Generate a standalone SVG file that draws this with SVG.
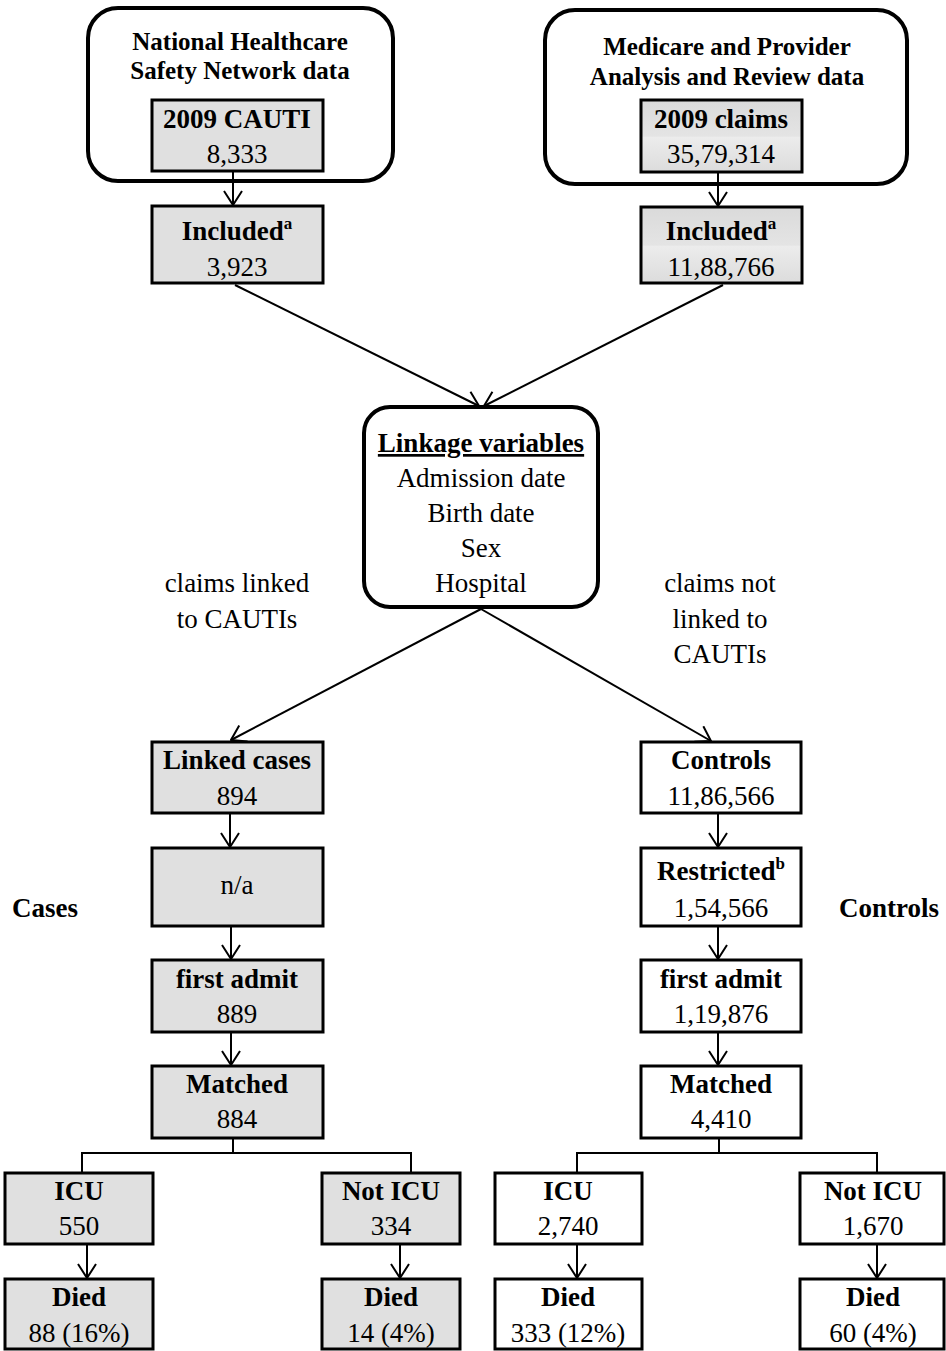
<svg xmlns="http://www.w3.org/2000/svg" width="946" height="1351" viewBox="0 0 946 1351">
<defs>
<style>
.bg{fill:#ffffff}
.outer{fill:#ffffff;stroke:#000;stroke-width:4}
.g{fill:#e0e0e0;stroke:#000;stroke-width:3}
.gg{fill:url(#grad);stroke:#000;stroke-width:3}
.w{fill:#ffffff;stroke:#000;stroke-width:3}
.t{font-family:"Liberation Serif","Times New Roman",serif;font-size:27px;fill:#000;text-anchor:middle}
.b{font-weight:bold}
.h{font-family:"Liberation Serif","Times New Roman",serif;font-size:25px;font-weight:bold;fill:#000;text-anchor:middle}
.sup{font-size:17px;font-weight:bold}
.c line,.c path{stroke:#000;stroke-width:2;fill:none}
</style>
<linearGradient id="grad" x1="0" y1="0" x2="0" y2="1">
<stop offset="0" stop-color="#dadada"/>
<stop offset="0.5" stop-color="#e4e4e4"/>
<stop offset="0.52" stop-color="#ececec"/>
<stop offset="1" stop-color="#dcdcdc"/>
</linearGradient>
<marker id="arr" viewBox="0 0 16 20" refX="15" refY="10" markerWidth="16" markerHeight="20" markerUnits="userSpaceOnUse" orient="auto">
<path d="M1,1 L15,10 L1,19" fill="none" stroke="#000" stroke-width="2"/>
</marker>
</defs>
<rect class="bg" x="0" y="0" width="946" height="1351"/>

<g id="nhsn">
<rect class="outer" x="88" y="8" width="305" height="173" rx="30"/>
<text class="h" x="240" y="50">National Healthcare</text>
<text class="h" x="240" y="79">Safety Network data</text>
</g>
<g id="cauti">
<rect class="g" x="152" y="100" width="171" height="71"/>
<text class="t b" x="237" y="128">2009 CAUTI</text>
<text class="t" x="237" y="163">8,333</text>
</g>
<g id="included-left">
<rect class="g" x="152" y="206" width="171" height="77"/>
<text class="t b" x="237" y="240">Included<tspan class="sup" dy="-11">a</tspan></text>
<text class="t" x="237" y="276">3,923</text>
</g>

<g id="medpar">
<rect class="outer" x="545" y="10" width="362" height="174" rx="30"/>
<text class="h" x="727" y="55">Medicare and Provider</text>
<text class="h" x="727" y="85">Analysis and Review data</text>
</g>
<g id="claims">
<rect class="gg" x="641" y="100" width="161" height="72"/>
<text class="t b" x="721" y="128">2009 claims</text>
<text class="t" x="721" y="163">35,79,314</text>
</g>
<g id="included-right">
<rect class="gg" x="641" y="207" width="161" height="76"/>
<text class="t b" x="721" y="240">Included<tspan class="sup" dy="-11">a</tspan></text>
<text class="t" x="721" y="276">11,88,766</text>
</g>

<g id="linkage">
<rect class="outer" x="364" y="407" width="234" height="200" rx="26"/>
<text class="t b" x="481" y="452" text-decoration="underline">Linkage variables</text>
<text class="t" x="481" y="487">Admission date</text>
<text class="t" x="481" y="522">Birth date</text>
<text class="t" x="481" y="557">Sex</text>
<text class="t" x="481" y="592">Hospital</text>
</g>

<g id="label-linked">
<text class="t" x="237" y="592">claims linked</text>
<text class="t" x="237" y="628">to CAUTIs</text>
</g>
<g id="label-notlinked">
<text class="t" x="720" y="592">claims not</text>
<text class="t" x="720" y="628">linked to</text>
<text class="t" x="720" y="663">CAUTIs</text>
</g>

<g id="label-cases"><text class="t b" x="45" y="917">Cases</text></g>
<g id="label-controls"><text class="t b" x="889" y="917">Controls</text></g>

<g id="linked-cases">
<rect class="g" x="152" y="742" width="171" height="71"/>
<text class="t b" x="237" y="769">Linked cases</text>
<text class="t" x="237" y="805">894</text>
</g>
<g id="na">
<rect class="g" x="152" y="848" width="171" height="78"/>
<text class="t" x="237" y="894">n/a</text>
</g>
<g id="first-left">
<rect class="g" x="152" y="960" width="171" height="72"/>
<text class="t b" x="237" y="988">first admit</text>
<text class="t" x="237" y="1023">889</text>
</g>
<g id="matched-left">
<rect class="g" x="152" y="1066" width="171" height="72"/>
<text class="t b" x="237" y="1093">Matched</text>
<text class="t" x="237" y="1128">884</text>
</g>

<g id="controls">
<rect class="w" x="641" y="742" width="160" height="71"/>
<text class="t b" x="721" y="769">Controls</text>
<text class="t" x="721" y="805">11,86,566</text>
</g>
<g id="restricted">
<rect class="w" x="641" y="848" width="160" height="78"/>
<text class="t b" x="721" y="880">Restricted<tspan class="sup" dy="-11">b</tspan></text>
<text class="t" x="721" y="917">1,54,566</text>
</g>
<g id="first-right">
<rect class="w" x="641" y="960" width="160" height="72"/>
<text class="t b" x="721" y="988">first admit</text>
<text class="t" x="721" y="1023">1,19,876</text>
</g>
<g id="matched-right">
<rect class="w" x="641" y="1066" width="160" height="72"/>
<text class="t b" x="721" y="1093">Matched</text>
<text class="t" x="721" y="1128">4,410</text>
</g>

<g id="icu-cases">
<rect class="g" x="5" y="1173" width="148" height="71"/>
<text class="t b" x="79" y="1200">ICU</text>
<text class="t" x="79" y="1235">550</text>
</g>
<g id="noticu-cases">
<rect class="g" x="322" y="1173" width="138" height="71"/>
<text class="t b" x="391" y="1200">Not ICU</text>
<text class="t" x="391" y="1235">334</text>
</g>
<g id="died-icu-cases">
<rect class="g" x="5" y="1279" width="148" height="70"/>
<text class="t b" x="79" y="1306">Died</text>
<text class="t" x="79" y="1342">88 (16%)</text>
</g>
<g id="died-noticu-cases">
<rect class="g" x="322" y="1279" width="138" height="70"/>
<text class="t b" x="391" y="1306">Died</text>
<text class="t" x="391" y="1342">14 (4%)</text>
</g>

<g id="icu-controls">
<rect class="w" x="495" y="1173" width="147" height="71"/>
<text class="t b" x="568" y="1200">ICU</text>
<text class="t" x="568" y="1235">2,740</text>
</g>
<g id="noticu-controls">
<rect class="w" x="800" y="1173" width="144" height="71"/>
<text class="t b" x="873" y="1200">Not ICU</text>
<text class="t" x="873" y="1235">1,670</text>
</g>
<g id="died-icu-controls">
<rect class="w" x="495" y="1279" width="147" height="70"/>
<text class="t b" x="568" y="1306">Died</text>
<text class="t" x="568" y="1342">333 (12%)</text>
</g>
<g id="died-noticu-controls">
<rect class="w" x="800" y="1279" width="144" height="70"/>
<text class="t b" x="873" y="1306">Died</text>
<text class="t" x="873" y="1342">60 (4%)</text>
</g>

<g id="connectors" class="c">
<line x1="233" y1="172" x2="233" y2="205" marker-end="url(#arr)"/>
<line x1="718" y1="173" x2="718" y2="206" marker-end="url(#arr)"/>
<line x1="235" y1="285" x2="479" y2="406" marker-end="url(#arr)"/>
<line x1="723" y1="285" x2="484" y2="406" marker-end="url(#arr)"/>
<line x1="481" y1="609" x2="231" y2="740" marker-end="url(#arr)"/>
<line x1="481" y1="609" x2="711" y2="741" marker-end="url(#arr)"/>
<line x1="230" y1="814" x2="230" y2="847" marker-end="url(#arr)"/>
<line x1="231" y1="927" x2="231" y2="959" marker-end="url(#arr)"/>
<line x1="231" y1="1033" x2="231" y2="1065" marker-end="url(#arr)"/>
<line x1="718" y1="814" x2="718" y2="847" marker-end="url(#arr)"/>
<line x1="718" y1="927" x2="718" y2="959" marker-end="url(#arr)"/>
<line x1="718" y1="1033" x2="718" y2="1065" marker-end="url(#arr)"/>
<path d="M233,1139 V1153 M82,1172 V1153 H411 V1172"/>
<path d="M719,1139 V1153 M577,1172 V1153 H877 V1172"/>
<line x1="87" y1="1245" x2="87" y2="1278" marker-end="url(#arr)"/>
<line x1="400" y1="1245" x2="400" y2="1278" marker-end="url(#arr)"/>
<line x1="577" y1="1245" x2="577" y2="1278" marker-end="url(#arr)"/>
<line x1="877" y1="1245" x2="877" y2="1278" marker-end="url(#arr)"/>
</g>
</svg>
